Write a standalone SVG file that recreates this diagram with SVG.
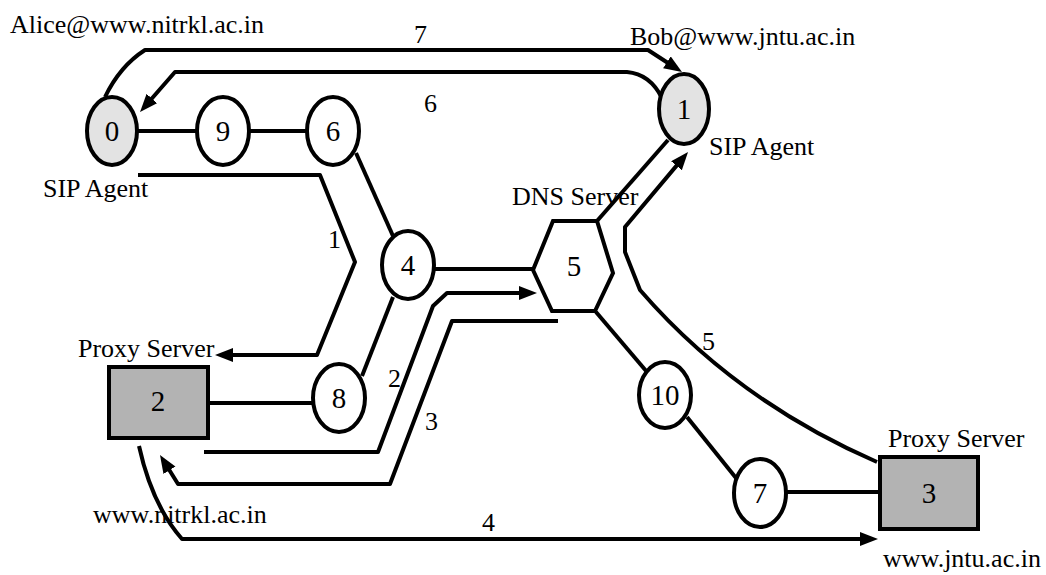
<svg xmlns="http://www.w3.org/2000/svg" width="1046" height="575" viewBox="0 0 1046 575" font-family="'Liberation Serif', 'Times New Roman', Times, serif">
  <style>
    text { font-family: "Liberation Serif", "Times New Roman", Times, serif; fill: #000; }
    .lbl { font-size: 26px; }
    .num { font-size: 29px; text-anchor: middle; }
    .edge { stroke: #000; stroke-width: 4; fill: none; }
    .msg { stroke: #000; stroke-width: 4; fill: none; stroke-linejoin: round; marker-end: url(#arrow); }
    .agent { fill: #e3e3e3; stroke: #000; stroke-width: 4; }
    .router { fill: #fff; stroke: #000; stroke-width: 4; }
    .proxy { fill: #b3b3b3; stroke: #000; stroke-width: 4; }
  </style>
  <defs>
    <marker id="arrow" markerUnits="userSpaceOnUse" markerWidth="20" markerHeight="16" refX="10" refY="7" orient="auto">
      <path d="M0,0 L18,7 L0,14 z" fill="#000"/>
    </marker>
  </defs>
  <rect width="1046" height="575" fill="#fff"/>

  <!-- links between nodes and numbered message flows -->
  <g id="connectors">
    <line class="edge" x1="137" y1="131" x2="197" y2="131"/>
    <line class="edge" x1="249" y1="131" x2="307" y2="131"/>
    <line class="edge" x1="356" y1="153" x2="393" y2="236"/>
    <line class="edge" x1="434" y1="269" x2="533" y2="269"/>
    <line class="edge" x1="393" y1="297" x2="362" y2="376"/>
    <line class="edge" x1="208" y1="403" x2="313" y2="403"/>
    <line class="edge" x1="668" y1="140" x2="597" y2="221"/>
    <line class="edge" x1="596" y1="312" x2="647" y2="372"/>
    <line class="edge" x1="687" y1="417" x2="736" y2="478"/>
    <line class="edge" x1="786" y1="492" x2="880" y2="492"/>

    <!-- 7: Alice to Bob -->
    <path class="msg" d="M105,97 Q120,66 145,50 L648,50 L675.3,67.7"/>
    <!-- 6: Bob to Alice -->
    <path class="msg" d="M662,98 Q650,74 627,72 L175,72 L145.3,106"/>
    <!-- 1: Alice to proxy -->
    <path class="msg" d="M138,175 L320,175 L355,262 L317,355 L223,355"/>
    <!-- 2: proxy to DNS -->
    <path class="msg" d="M204,452 L378,452 L433,306 L447,293 L529,293"/>
    <!-- 3: DNS to proxy -->
    <path class="msg" d="M558,321 L452,321 L390,484 L178,484 L164.2,461.8"/>
    <!-- 4: proxy to proxy -->
    <path class="msg" d="M139,446 Q152,505 182,539 L870,539"/>
    <!-- 5: proxy to Bob -->
    <path class="msg" d="M877,462 Q735,400 640,290 L625,252 L625,227 L682.9,158.1"/>

    <text class="lbl" x="414" y="43">7</text>
    <text class="lbl" x="424" y="112">6</text>
    <text class="lbl" x="328" y="248">1</text>
    <text class="lbl" x="388" y="387">2</text>
    <text class="lbl" x="425" y="430">3</text>
    <text class="lbl" x="482" y="531">4</text>
    <text class="lbl" x="702" y="350">5</text>
  </g>

  <g id="node-0">
    <ellipse class="agent" cx="112" cy="131" rx="25" ry="34"/>
    <text class="num" x="112" y="141">0</text>
    <text class="lbl" x="10" y="33">Alice@www.nitrkl.ac.in</text>
    <text class="lbl" x="43" y="197">SIP Agent</text>
  </g>
  <g id="node-1">
    <ellipse class="agent" cx="684" cy="109" rx="25" ry="35"/>
    <text class="num" x="684" y="119">1</text>
    <text class="lbl" x="630" y="45">Bob@www.jntu.ac.in</text>
    <text class="lbl" x="709" y="155">SIP Agent</text>
  </g>
  <g id="node-2">
    <rect class="proxy" x="109" y="367" width="99" height="71"/>
    <text class="num" x="158" y="411">2</text>
    <text class="lbl" x="78" y="357">Proxy Server</text>
    <text class="lbl" x="93" y="523">www.nitrkl.ac.in</text>
  </g>
  <g id="node-3">
    <rect class="proxy" x="880" y="457" width="98" height="72"/>
    <text class="num" x="929" y="503">3</text>
    <text class="lbl" x="888" y="447">Proxy Server</text>
    <text class="lbl" x="883" y="567">www.jntu.ac.in</text>
  </g>
  <g id="node-4">
    <ellipse class="router" cx="408" cy="265" rx="26" ry="34"/>
    <text class="num" x="408" y="275">4</text>
  </g>
  <g id="node-5">
    <polygon class="router" points="533,270 553,221 597,221 613,273 595,311 552,311"/>
    <text class="num" x="574" y="276">5</text>
    <text class="lbl" x="512" y="205">DNS Server</text>
  </g>
  <g id="node-6">
    <ellipse class="router" cx="333" cy="131" rx="26" ry="34"/>
    <text class="num" x="333" y="141">6</text>
  </g>
  <g id="node-7">
    <ellipse class="router" cx="760" cy="493" rx="26" ry="34"/>
    <text class="num" x="760" y="503">7</text>
  </g>
  <g id="node-8">
    <ellipse class="router" cx="339" cy="398" rx="26" ry="34"/>
    <text class="num" x="339" y="408">8</text>
  </g>
  <g id="node-9">
    <ellipse class="router" cx="223" cy="131" rx="26" ry="34"/>
    <text class="num" x="223" y="141">9</text>
  </g>
  <g id="node-10">
    <ellipse class="router" cx="665" cy="395" rx="26" ry="33"/>
    <text class="num" x="665" y="405">10</text>
  </g>
</svg>
